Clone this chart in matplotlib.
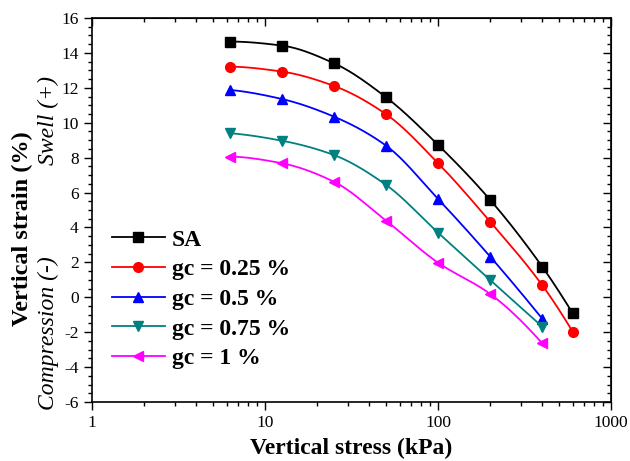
import matplotlib

matplotlib.use("Agg")
import matplotlib.pyplot as plt
import numpy as np
from matplotlib.ticker import MultipleLocator, LogLocator, NullFormatter

plt.rcParams["font.family"] = ["Liberation Serif", "DejaVu Serif"]
plt.rcParams["axes.unicode_minus"] = False

# Data
stress = [6.25, 12.5, 25, 50, 100, 200, 400, 600]
sa = [14.65, 14.42, 13.41, 11.46, 8.73, 5.58, 1.75, -0.92]
gc_025 = [13.21, 12.93, 12.11, 10.49, 7.68, 4.33, 0.69, -1.97]
gc_05 = [11.88, 11.36, 10.35, 8.69, 5.63, 2.33, -1.23]
gc_075 = [9.40, 8.97, 8.15, 6.44, 3.70, 0.99, -1.68]
gc_1 = [8.06, 7.68, 6.62, 4.39, 1.98, 0.19, -2.64]

labels = ["SA", "gc = 0.25 %", "gc = 0.5 %", "gc = 0.75 %", "gc = 1 %"]
series = [sa, gc_025, gc_05, gc_075, gc_1]
colors = ["#000000", "#ff0000", "#0000ff", "#008080", "#ff00ff"]
markers = ["s", "o", "^", "v", "<"]


def pchip_curve(x, y, n=200):
    """Smooth monotone cubic curve through the points (for drawing only)."""
    x = np.asarray(x, float)
    y = np.asarray(y, float)
    h = np.diff(x)
    delta = np.diff(y) / h
    d = np.zeros_like(y)
    for i in range(1, len(x) - 1):
        if delta[i - 1] * delta[i] > 0:
            w1 = 2 * h[i] + h[i - 1]
            w2 = h[i] + 2 * h[i - 1]
            d[i] = (w1 + w2) / (w1 / delta[i - 1] + w2 / delta[i])
    d[0] = ((2 * h[0] + h[1]) * delta[0] - h[0] * delta[1]) / (h[0] + h[1])
    if np.sign(d[0]) != np.sign(delta[0]):
        d[0] = 0
    d[-1] = ((2 * h[-1] + h[-2]) * delta[-1] - h[-1] * delta[-2]) / (h[-1] + h[-2])
    if np.sign(d[-1]) != np.sign(delta[-1]):
        d[-1] = 0
    xs = np.linspace(x[0], x[-1], n)
    idx = np.clip(np.searchsorted(x, xs) - 1, 0, len(x) - 2)
    t = (xs - x[idx]) / h[idx]
    h00 = 2 * t**3 - 3 * t**2 + 1
    h10 = t**3 - 2 * t**2 + t
    h01 = -2 * t**3 + 3 * t**2
    h11 = t**3 - t**2
    ys = h00 * y[idx] + h10 * h[idx] * d[idx] + h01 * y[idx + 1] + h11 * h[idx] * d[idx + 1]
    return xs, ys


fig = plt.figure(figsize=(6.3, 4.61), dpi=100)
ax = fig.add_axes([0.146, 0.128, 0.824, 0.833])

for vals, lab, col, mk in zip(series, labels, colors, markers):
    xv = np.log10(stress[: len(vals)])
    xs, ys = pchip_curve(xv, vals)
    ax.plot(10**xs, ys, color=col, linewidth=1.3, zorder=2)
    ax.plot(
        stress[: len(vals)], vals, linestyle="none", marker=mk, color=col,
        markersize=7, zorder=3,
    )
    # legend proxy
    ax.plot([], [], color=col, marker=mk, markersize=7, linewidth=1.3, label=lab)

ax.set_xscale("log")
ax.set_xlim(1, 1000)
ax.set_ylim(-6, 16)
ax.yaxis.set_major_locator(MultipleLocator(2))
ax.yaxis.set_minor_locator(MultipleLocator(0.5))
ax.xaxis.set_minor_locator(LogLocator(base=10, subs=np.arange(2, 10)))
ax.xaxis.set_minor_formatter(NullFormatter())
ax.set_xticks([1, 10, 100, 1000])
ax.set_xticklabels(["1", "10", "100", "1000"])

ax.tick_params(which="both", direction="out", labelsize=12.5, width=1)
ax.tick_params(which="major", length=6)
ax.tick_params(which="minor", length=3)

# mirrored ticks on top and right, pointing inwards
top = ax.secondary_xaxis("top")
top.set_xscale("log")
top.xaxis.set_major_locator(LogLocator(base=10))
top.xaxis.set_minor_locator(LogLocator(base=10, subs=np.arange(2, 10)))
top.tick_params(which="both", direction="in", labeltop=False, width=1)
top.tick_params(which="major", length=6)
top.tick_params(which="minor", length=3)
right = ax.secondary_yaxis("right")
right.yaxis.set_major_locator(MultipleLocator(2))
right.yaxis.set_minor_locator(MultipleLocator(0.5))
right.tick_params(which="both", direction="in", labelright=False, width=1)
right.tick_params(which="major", length=6)
right.tick_params(which="minor", length=3)

for spine in ax.spines.values():
    spine.set_linewidth(1.2)

fig.text(0.557, 0.028, "Vertical stress (kPa)", fontsize=17, fontweight="bold",
         ha="center", va="center")
fig.text(0.035, 0.503, "Vertical strain (%)", rotation=90, fontsize=17.5,
         fontweight="bold", ha="center", va="center")
fig.text(0.077, 0.738, "Swell (+)", rotation=90, fontsize=17,
         style="italic", ha="center", va="center")
fig.text(0.077, 0.278, "Compression (-)", rotation=90, fontsize=17,
         style="italic", ha="center", va="center")

ax.legend(
    loc="upper left", bbox_to_anchor=(0.02, 0.475), frameon=False,
    prop={"size": 17, "weight": "bold"}, handlelength=2.25, handletextpad=0.3,
    labelspacing=0.345, borderaxespad=0,
)

fig.savefig("out.png", dpi=100)
